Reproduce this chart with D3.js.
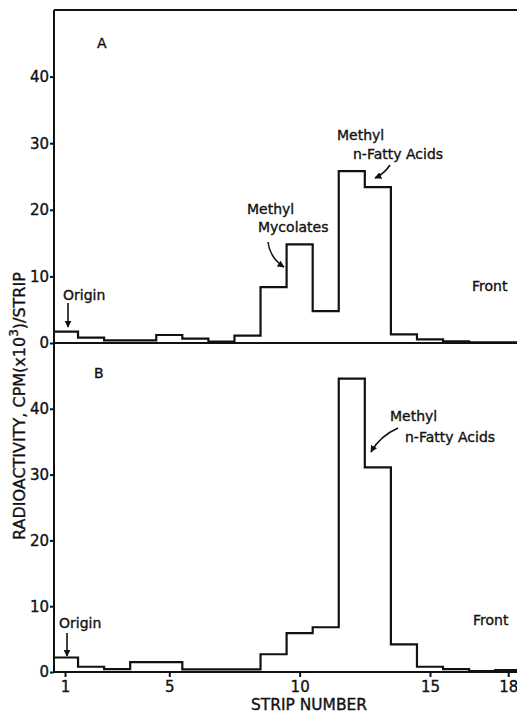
<!DOCTYPE html>
<html lang="en">
<head>
<meta charset="utf-8">
<script src="https://cdnjs.cloudflare.com/ajax/libs/d3/7.8.5/d3.min.js"></script>
<style>
  body { margin: 0; background: #fff; }
  svg text { font-family: "DejaVu Sans", sans-serif; fill: #111; stroke: #111; stroke-width: 0.35; }
  .axis text { font-size: 15px; }
  .axis line, .axis path { stroke: #111; stroke-width: 2; }
  .hist { fill: none; stroke: #111; stroke-width: 2.2; stroke-linejoin: miter; }
  .note { font-size: 14px; }
</style>
</head>
<body>
<svg id="chart" width="517" height="714"></svg>
<script>
// strip numbers and counts (cpm x 10^3 per strip)
const strips = d3.range(1, 19)
const panelA = [1.7, 0.8, 0.4, 0.4, 1.2, 0.65, 0.2, 1.1, 8.4, 14.8, 4.8, 25.8, 23.4, 1.3, 0.55, 0.25, 0.08, 0.08]
const panelB = [2.2, 0.8, 0.45, 1.5, 1.5, 0.4, 0.4, 0.4, 2.7, 5.9, 6.8, 44.6, 31.1, 4.2, 0.8, 0.45, 0.15, 0.3]
const yTicks = [0, 10, 20, 30, 40]
const xTicks = [1, 5, 10, 15, 18]

const svg = d3.select("#chart")
const left = 54, right = 517

let x = d3.scaleLinear().domain([1, 15]).range([65, 430])

let panels = [
  { name: "A", values: panelA, y: d3.scaleLinear().domain([0, 50]).range([343, 10]) },
  { name: "B", values: panelB, y: d3.scaleLinear().domain([0, 50]).range([672, 343]) }
]

// top frame line
svg.append("line")
  .attr("x1", left).attr("x2", right)
  .attr("y1", 10).attr("y2", 10)
  .attr("stroke", "#111").attr("stroke-width", 2)

panels.forEach(p => {
  let g = svg.append("g")

  // y axis
  g.append("g")
    .attr("class", "axis")
    .attr("transform", `translate(${left},0)`)
    .call(d3.axisLeft(p.y).tickValues(yTicks).tickSize(4).tickPadding(1))
    .call(s => s.select(".domain").remove())

  g.append("line")
    .attr("x1", left).attr("x2", left)
    .attr("y1", p.y.range()[1]).attr("y2", p.y(0))
    .attr("stroke", "#111").attr("stroke-width", 2)

  // baseline
  g.append("line")
    .attr("x1", left).attr("x2", right)
    .attr("y1", p.y(0)).attr("y2", p.y(0))
    .attr("stroke", "#111").attr("stroke-width", 2)

  // step histogram
  let pts = strips.map((s, i) => [Math.max(x(s - 0.5), left), p.values[i]])
  pts.push([x(strips[strips.length - 1] + 0.5), p.values[p.values.length - 1]])
  let line = d3.line()
    .x(d => d[0])
    .y(d => p.y(d[1]))
    .curve(d3.curveStepAfter)
  g.append("path").attr("class", "hist").attr("d", line(pts))
})

// bottom x axis
svg.append("g")
  .attr("class", "axis")
  .attr("transform", `translate(0,${panels[1].y(0)})`)
  .call(d3.axisBottom(x).tickValues(xTicks).tickSize(5).tickPadding(4))
  .call(s => s.select(".domain").remove())

svg.append("text")
  .attr("x", 309).attr("y", 710)
  .attr("text-anchor", "middle")
  .attr("font-size", 15)
  .attr("textLength", 116).attr("lengthAdjust", "spacingAndGlyphs")
  .text("STRIP NUMBER")

// y label, reads bottom to top
let yl = svg.append("text")
  .attr("transform", "translate(25,540) rotate(-90)")
  .attr("text-anchor", "start")
  .attr("font-size", 16)
yl.append("tspan").text("RADIOACTIVITY, CPM(x10")
yl.append("tspan").attr("font-size", 12).attr("dy", -7).text("3")
yl.append("tspan").attr("dy", 7).text(")/STRIP")

// arrow marker
svg.append("defs").append("marker")
  .attr("id", "head")
  .attr("viewBox", "0 0 10 10")
  .attr("refX", 9).attr("refY", 5)
  .attr("markerWidth", 7).attr("markerHeight", 7)
  .attr("markerUnits", "userSpaceOnUse")
  .attr("orient", "auto")
  .append("path").attr("d", "M0,0 L10,5 L0,10 Z").attr("fill", "#111")

function arrow(d) {
  svg.append("path")
    .attr("d", d)
    .attr("fill", "none").attr("stroke", "#111").attr("stroke-width", 1.6)
    .attr("marker-end", "url(#head)")
}

function note(tx, ty, str, size, weight) {
  svg.append("text").attr("class", "note")
    .attr("x", tx).attr("y", ty)
    .attr("font-size", size || 14)
    .attr("font-weight", weight || "normal")
    .text(str)
}

// panel A labels
note(97, 48, "A", 17)
note(63, 300, "Origin")
arrow(`M${x(1) + 3},303 L${x(1) + 3},327`)
note(247, 214, "Methyl")
note(258, 232, "Mycolates")
arrow("M268,242 Q270,258 284,267")
note(337, 140, "Methyl")
note(353, 159, "n-Fatty Acids")
arrow("M390,165 Q384,174 375,178")
note(472, 291, "Front", 16)

// panel B labels
note(94, 378, "B", 17)
note(59, 628, "Origin")
arrow(`M${x(1) + 2},633 L${x(1) + 2},656`)
note(390, 421, "Methyl")
note(405, 442, "n-Fatty Acids")
arrow("M398,428 Q380,436 371,452")
note(473, 625, "Front", 16)
</script>
</body>
</html>
